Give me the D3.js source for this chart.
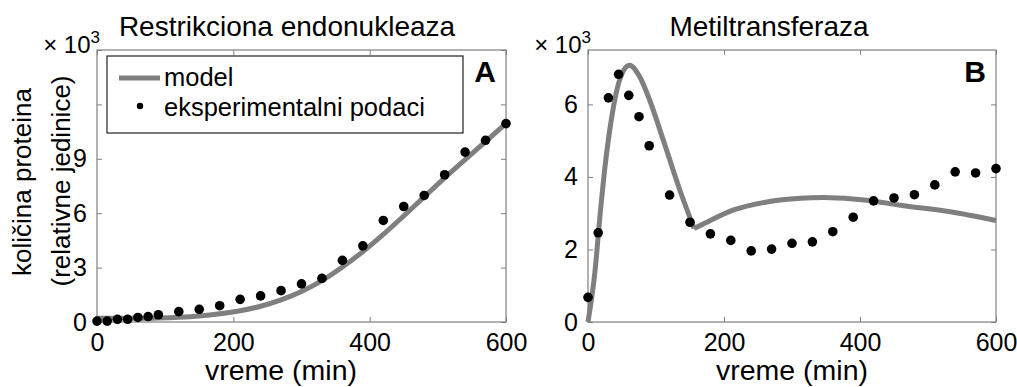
<!DOCTYPE html>
<html>
<head>
<meta charset="utf-8">
<script src="https://cdn.jsdelivr.net/npm/d3@7"></script>
<style>
  body { margin: 0; background: #fff; }
  text { font-family: "Liberation Sans", Arial, sans-serif; fill: #000; }
</style>
</head>
<body>
<svg id="chart" width="1017" height="387"></svg>
<script>
// time points (min) of the measurements
const timePoints = [0, 15, 30, 45, 60, 75, 90, 120, 150, 180, 210, 240, 270, 300,
    330, 360, 390, 420, 450, 480, 510, 540, 570, 600];

// panel A - restriction endonuclease (x 10^3)
const endoExperiment = [0.05, 0.05, 0.15, 0.15, 0.25, 0.3, 0.4, 0.57, 0.7, 0.9, 1.25, 1.44,
    1.73, 2.1, 2.41, 3.4, 4.2, 5.6, 6.37, 6.98, 8.12, 9.37, 10.02, 10.94];
const endoModelTime = [0, 30, 60, 90, 120, 150, 180, 210, 240, 270, 300, 330, 360, 390,
    420, 450, 480, 510, 540, 570, 600];
const endoModel = [0.2, 0.2, 0.2, 0.22, 0.26, 0.33, 0.45, 0.62, 0.87, 1.22, 1.68, 2.28, 3.03,
    3.88, 4.83, 5.85, 6.9, 7.95, 8.95, 9.95, 10.95];

// panel B - methyltransferase (x 10^3)
const methExperiment = [0.68, 2.46, 6.18, 6.83, 6.25, 5.66, 4.86, 3.5, 2.75, 2.43, 2.25, 1.96,
    2.01, 2.17, 2.21, 2.49, 2.89, 3.34, 3.42, 3.51, 3.78, 4.14, 4.11, 4.23];
// model has a kink where the second phase starts, so two pieces
const methModelTime1 = [0, 10, 18, 25, 35, 47, 61, 76, 91, 111, 135, 156];
const methModel1 = [0, 1.35, 3.0, 4.28, 5.66, 6.7, 7.08, 6.76, 6.1, 5.0, 3.64, 2.58];
const methModelTime2 = [156, 165, 214, 263, 312, 346, 410, 459, 533, 600];
const methModel2 = [2.58, 2.66, 3.09, 3.31, 3.41, 3.43, 3.36, 3.22, 3.04, 2.8];

const xTicks = [0, 200, 400, 600];
const endoTicks = [0, 3, 6, 9, 12, 15];
const endoTickLabels = ["0", "3", "6", "9", "", ""];
const methTicks = [0, 2, 4, 6];

const svg = d3.select("#chart");
const grey = "#7f7f7f";

function drawPanel(p) {
    const x = d3.scaleLinear().domain([0, 600]).range([p.left, p.right]);
    const y = d3.scaleLinear().domain(p.yDomain).range([p.bottom, p.top]);
    const g = svg.append("g");

    // box
    g.append("rect")
        .attr("x", p.left).attr("y", p.top)
        .attr("width", p.right - p.left).attr("height", p.bottom - p.top)
        .attr("fill", "none").attr("stroke", grey).attr("stroke-width", 1.2);

    const styleAxis = sel => {
        sel.select(".domain").remove();
        sel.selectAll("line").attr("stroke", grey);
        sel.selectAll("text").style("font-size", "25px")
            .style("font-family", "'Liberation Sans', Arial, sans-serif");
    };

    g.append("g").attr("transform", `translate(0,${p.bottom})`)
        .call(d3.axisBottom(x).tickValues(xTicks).tickSize(-5).tickPadding(11).tickFormat(d3.format("d")))
        .call(styleAxis);
    g.append("g").attr("transform", `translate(0,${p.top})`)
        .call(d3.axisTop(x).tickValues(xTicks).tickSize(-5).tickFormat(""))
        .call(styleAxis);
    g.append("g").attr("transform", `translate(${p.left},0)`)
        .call(d3.axisLeft(y).tickValues(p.yTicks).tickSize(-5).tickPadding(10)
            .tickFormat((d, i) => p.yLabels[i]))
        .call(styleAxis);
    g.append("g").attr("transform", `translate(${p.right},0)`)
        .call(d3.axisRight(y).tickValues(p.yTicks).tickSize(-5).tickFormat(""))
        .call(styleAxis);

    // model line(s)
    const line = d3.line().x(d => x(d[0])).y(d => y(d[1])).curve(d3.curveMonotoneX);
    p.model.forEach(m => {
        g.append("path")
            .datum(m.t.map((t, i) => [t, m.v[i]]))
            .attr("d", line)
            .attr("fill", "none").attr("stroke", grey)
            .attr("stroke-width", 5).attr("stroke-linejoin", "round");
    });

    // experimental points
    g.selectAll("circle.pt")
        .data(timePoints.map((t, i) => [t, p.exp[i]]))
        .join("circle").attr("class", "pt")
        .attr("cx", d => x(d[0])).attr("cy", d => y(d[1]))
        .attr("r", 4.8).attr("fill", "#000");

    // title
    g.append("text").attr("x", p.titleX).attr("y", 36)
        .attr("text-anchor", "middle").style("font-size", "28px").text(p.title);

    // x label
    g.append("text").attr("x", p.xLabelX).attr("y", 380)
        .attr("text-anchor", "middle").style("font-size", "28.5px").text("vreme (min)");

    // exponent
    const ex = g.append("text").attr("x", p.left + 3).attr("y", 53)
        .attr("text-anchor", "end").style("font-size", "24px");
    ex.append("tspan").text("\u00d7 10");
    ex.append("tspan").attr("dy", -10).style("font-size", "17px").text("3");

    // panel letter
    g.append("text").attr("x", p.right - 10).attr("y", 82)
        .attr("text-anchor", "end").style("font-size", "30px").style("font-weight", "bold")
        .text(p.letter);
}

drawPanel({
    left: 97, right: 506, top: 50, bottom: 322,
    yDomain: [0, 15], yTicks: endoTicks, yLabels: endoTickLabels,
    exp: endoExperiment,
    model: [{t: endoModelTime, v: endoModel}],
    title: "Restrikciona endonukleaza", titleX: 287, xLabelX: 281, letter: "A"
});

drawPanel({
    left: 588, right: 996, top: 50, bottom: 322,
    yDomain: [0, 7.5], yTicks: methTicks, yLabels: methTicks.map(String),
    exp: methExperiment,
    model: [{t: methModelTime1, v: methModel1}, {t: methModelTime2, v: methModel2}],
    title: "Metiltransferaza", titleX: 769, xLabelX: 792, letter: "B"
});

// y axis label (two lines)
svg.append("text")
    .attr("transform", "translate(31,182) rotate(-90)")
    .attr("text-anchor", "middle").style("font-size", "26px")
    .text("količina proteina");
svg.append("text")
    .attr("transform", "translate(70,181) rotate(-90)")
    .attr("text-anchor", "middle").style("font-size", "26px")
    .text("(relativne jedinice)");

// legend in panel A
const leg = svg.append("g");
leg.append("rect").attr("x", 107).attr("y", 56).attr("width", 356).attr("height", 77)
    .attr("fill", "#fff").attr("stroke", "#222").attr("stroke-width", 1.2);
leg.append("line").attr("x1", 119).attr("x2", 160).attr("y1", 78).attr("y2", 78)
    .attr("stroke", grey).attr("stroke-width", 5);
leg.append("text").attr("x", 164).attr("y", 86).style("font-size", "25.5px").text("model");
leg.append("circle").attr("cx", 140).attr("cy", 106).attr("r", 3.2).attr("fill", "#000");
leg.append("text").attr("x", 164).attr("y", 116).style("font-size", "25.5px")
    .text("eksperimentalni podaci");
</script>
</body>
</html>
